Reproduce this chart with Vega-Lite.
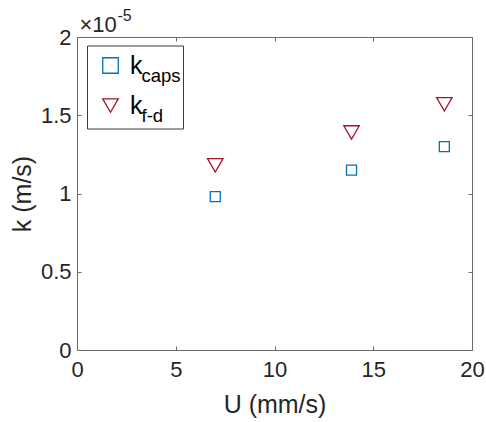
{
  "$schema": "https://vega.github.io/schema/vega-lite/v6.json",
  "width": 395,
  "height": 313,
  "autosize": "none",
  "padding": {"left": 77, "top": 37, "right": 14, "bottom": 72},
  "background": "white",
  "config": {
    "view": {"stroke": null},
    "font": "Liberation Sans",
    "axis": {
      "domainColor": "#6b6b6b",
      "domainWidth": 1,
      "tickColor": "#6b6b6b",
      "tickSize": -4,
      "grid": false,
      "labelFont": "Liberation Sans",
      "labelFontSize": 22,
      "labelColor": "#262626",
      "titleFont": "Liberation Sans",
      "titleFontSize": 25,
      "titleFontWeight": "normal",
      "titleColor": "#262626"
    }
  },
  "data": {
    "values": [
      {"U": 7.0, "k": 9.8e-6, "series": "caps"},
      {"U": 13.9, "k": 1.15e-5, "series": "caps"},
      {"U": 18.6, "k": 1.30e-5, "series": "caps"},
      {"U": 7.0, "k": 1.18e-5, "series": "f-d"},
      {"U": 13.9, "k": 1.39e-5, "series": "f-d"},
      {"U": 18.6, "k": 1.57e-5, "series": "f-d"}
    ]
  },
  "layer": [
    {
      "mark": {"type": "point", "filled": false, "strokeWidth": 1.3, "opacity": 1},
      "encoding": {
        "x": {"field": "U", "type": "quantitative", "scale": {"domain": [0, 20], "nice": false, "zero": false},
              "axis": {"orient": "bottom", "title": "U (mm/s)", "values": [0, 5, 10, 15, 20], "labelPadding": 13, "titlePadding": 12, "labelFlush": false}},
        "y": {"field": "k", "type": "quantitative", "scale": {"domain": [0, 2e-5], "nice": false},
              "axis": {"orient": "left", "title": "k (m/s)", "values": [0, 5e-6, 1e-5, 1.5e-5, 2e-5], "labelExpr": "format(datum.value*1e5, '.2~f')", "labelPadding": 10, "titlePadding": 5, "labelFlush": false}},
        "color": {"field": "series", "type": "nominal", "scale": {"domain": ["caps", "f-d"], "range": ["#0072BD", "#A2142F"]},
                  "legend": {"title": null, "orient": "none", "legendX": 10, "legendY": 7, "padding": 1.5, "symbolOffset": 9.5, "symbolSize": 240, "symbolStrokeWidth": 1.3, "labelExpr": "'k'", "labelFontSize": 25, "labelColor": "#000000", "labelOffset": 7, "clipHeight": 40, "rowPadding": 0, "labelBaseline": "middle",
                             "encode": {"symbols": {"update": {"size": {"signal": "datum.value === 'caps' ? 100 : 240"}}}}}},
        "shape": {"field": "series", "type": "nominal", "scale": {"domain": ["caps", "f-d"], "range": ["square", "triangle-down"]},
                  "legend": {"title": null, "orient": "none", "legendX": 10, "legendY": 7, "padding": 1.5, "symbolOffset": 9.5, "symbolSize": 240, "symbolStrokeWidth": 1.3, "labelExpr": "'k'", "labelFontSize": 25, "labelColor": "#000000", "labelOffset": 7, "clipHeight": 40, "rowPadding": 0, "labelBaseline": "middle",
                             "encode": {"symbols": {"update": {"size": {"signal": "datum.value === 'caps' ? 100 : 240"}}}}}},
        "size": {"field": "series", "type": "ordinal", "scale": {"range": [100, 240]},
                 "legend": {"title": null, "orient": "none", "legendX": 10, "legendY": 8.5, "padding": 1.5, "strokeColor": "#3a3a3a", "clipHeight": 40, "rowPadding": 0, "labelFontSize": 18.5, "labelBaseline": "top", "symbolOpacity": 0, "symbolOffset": 0, "labelOffset": 34.5, "labelColor": "#000000"}}
      }
    },
    {
      "mark": {"type": "point", "opacity": 0},
      "encoding": {
        "x": {"field": "U", "type": "quantitative", "scale": {"domain": [0, 20], "nice": false, "zero": false},
              "axis": {"orient": "top", "labels": false, "values": [0, 5, 10, 15, 20], "title": "×10", "titleFontSize": 22, "titleX": 2, "titleY": -5.3, "titleAlign": "left", "titleBaseline": "alphabetic", "titleAngle": 0}},
        "y": {"field": "k", "type": "quantitative", "scale": {"domain": [0, 2e-5], "nice": false},
              "axis": {"orient": "right", "labels": false, "values": [0, 5e-6, 1e-5, 1.5e-5, 2e-5], "title": "-5", "titleFontSize": 16, "titleX": -355, "titleY": -17, "titleAlign": "left", "titleBaseline": "alphabetic", "titleAngle": 0}}
      }
    }
  ],
  "resolve": {"scale": {"x": "independent", "y": "independent"}}
}
